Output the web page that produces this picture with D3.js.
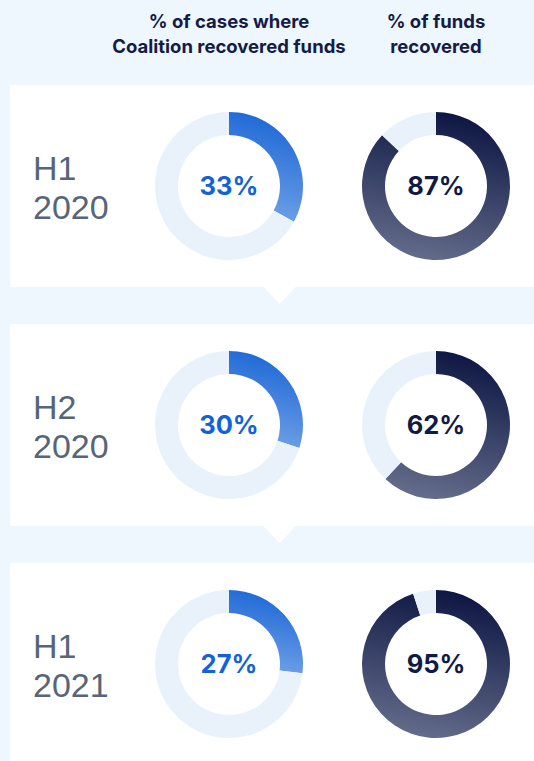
<!DOCTYPE html>
<html>
<head>
<meta charset="utf-8">
<script src="https://cdn.jsdelivr.net/npm/d3@7"></script>
<style>
  html, body { margin: 0; padding: 0; background: #eef6fe; }
  svg { display: block; }
</style>
</head>
<body>
<div class="chart"></div>
<script>
// data
const periods = ['H1 2020', 'H2 2020', 'H1 2021']
const casesRecovered = [33, 30, 27]   // % of cases where Coalition recovered funds
const fundsRecovered = [87, 62, 95]   // % of funds recovered
const metricTitles = [
  ['% of cases where', 'Coalition recovered funds'],
  ['% of funds', 'recovered']
]

const width = 534
const height = 761
const outerR = 74
const innerR = 51

const svg = d3.select('.chart').append('svg')
  .attr('width', width)
  .attr('height', height)
  .attr('viewBox', [0, 0, width, height])

svg.append('rect').attr('width', width).attr('height', height).attr('fill', '#eef6fe')

// gradients for the two series
const defs = svg.append('defs')
const grads = [
  { id: 'gBlue', from: '#1a66d6', to: '#72a2e6' },
  { id: 'gDark', from: '#0c1642', to: '#646c8b' }
]
grads.forEach(g => {
  const lg = defs.append('linearGradient')
    .attr('id', g.id)
    .attr('x1', 0.6).attr('y1', 0)
    .attr('x2', 0.4).attr('y2', 1)
  lg.append('stop').attr('offset', '0%').attr('stop-color', g.from)
  lg.append('stop').attr('offset', '100%').attr('stop-color', g.to)
})

// layout scales
const y = d3.scaleBand().domain(periods).range([85, 765]).paddingInner(0.155)
const x = d3.scalePoint().domain([0, 1]).range([229, 436])

// column headers
const head = svg.append('g')
metricTitles.forEach((lines, i) => {
  head.append('text')
    .attr('x', x(i))
    .attr('text-anchor', 'middle')
    .style('font-family', 'Inter, "Noto Sans", sans-serif')
    .style('font-weight', 700)
    .style('font-size', '18.5px')
    .style('fill', '#141b45')
    .selectAll('tspan')
    .data(lines)
    .join('tspan')
    .attr('x', x(i))
    .attr('y', (d, j) => 28 + j * 24.5)
    .text(d => d)
})

const pie = d3.pie().sort(null).value(d => d)
const arc = d3.arc().innerRadius(innerR).outerRadius(outerR)

const rows = svg.append('g').selectAll('g')
  .data(periods)
  .join('g')
  .attr('transform', d => `translate(0,${y(d)})`)

// white panels
rows.append('rect')
  .attr('x', 10)
  .attr('width', width - 10)
  .attr('height', y.bandwidth())
  .attr('fill', '#fff')

// little pointer below each panel (except last)
rows.filter((d, i) => i < periods.length - 1)
  .append('path')
  .attr('d', `M${262.5},${y.bandwidth() - 1} L${279.5},${y.bandwidth() + 17} L${296.5},${y.bandwidth() - 1} Z`)
  .attr('fill', '#fff')

// period labels
rows.append('text')
  .style('font-family', '"Liberation Sans", Arial, sans-serif')
  .style('font-size', '34px')
  .style('fill', '#566678')
  .selectAll('tspan')
  .data(d => d.split(' '))
  .join('tspan')
  .attr('x', 33)
  .attr('y', (d, j) => 95 + j * 38.5)
  .text(d => d)

// donuts
const series = [
  { values: casesRecovered, grad: 'gBlue', text: '#1262d8' },
  { values: fundsRecovered, grad: 'gDark', text: '#101a45' }
]

series.forEach((s, si) => {
  const donut = rows.append('g')
    .attr('transform', `translate(${x(si)},101)`)

  donut.selectAll('path')
    .data((d, i) => pie([s.values[i], 100 - s.values[i]]))
    .join('path')
    .attr('d', arc)
    .attr('fill', (d, k) => k === 0 ? `url(#${s.grad})` : '#e9f2fb')

  donut.append('text')
    .attr('text-anchor', 'middle')
    .attr('y', 9)
    .style('font-family', 'Inter, "Noto Sans", sans-serif')
    .style('font-weight', 700)
    .style('font-size', '25.5px')
    .style('fill', s.text)
    .text((d, i) => s.values[i] + '%')
})
</script>
</body>
</html>
